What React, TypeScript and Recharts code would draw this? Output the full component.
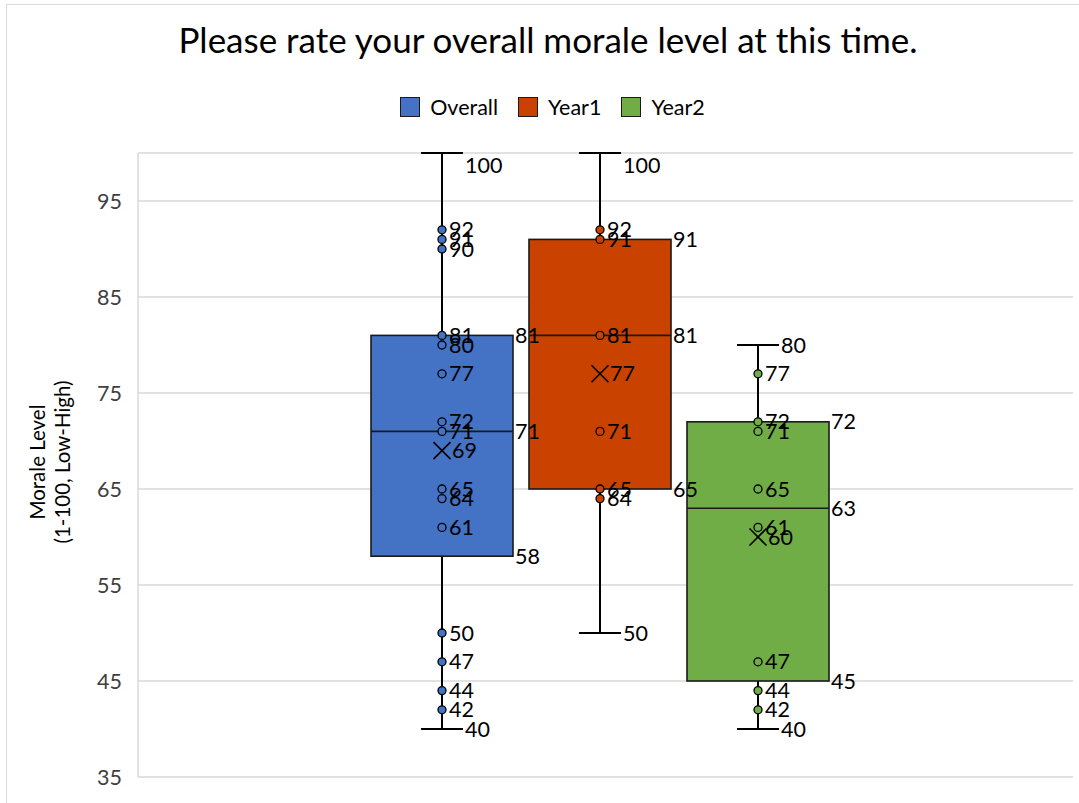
import React from 'react';
import { ComposedChart, Bar, Scatter, XAxis, YAxis, CartesianGrid, LabelList, Cell } from 'recharts';

const FONT = 'Lato, "Open Sans", sans-serif';
const TEXT = '#000000';

const seriesNames = ['Overall', 'Year1', 'Year2'];
const seriesColors = ['#4472C4', '#C94200', '#70AD47'];

// five-number summary + mean for each group
const minValues = [40, 50, 40];
const q1Values = [58, 65, 45];
const medianValues = [71, 81, 63];
const q3Values = [81, 91, 72];
const maxValues = [100, 100, 80];
const meanValues = [69, 77, 60];

// individual responses shown as dots
const overallPoints = [42, 44, 47, 50, 61, 64, 65, 71, 72, 77, 80, 81, 90, 91, 92];
const year1Points = [64, 65, 71, 81, 91, 92];
const year2Points = [42, 44, 47, 61, 65, 71, 72, 77];

const yTicks = [35, 45, 55, 65, 75, 85, 95];
const yDomain = [35, 100];

const boxRows = seriesNames.map((name, i) => ({
  name,
  color: seriesColors[i],
  min: minValues[i],
  q1: q1Values[i],
  median: medianValues[i],
  q3: q3Values[i],
  max: maxValues[i],
  mean: meanValues[i],
}));

const medianRows = boxRows.map(r => ({ name: r.name, value: r.median }));
const meanRows = boxRows.map(r => ({ name: r.name, value: r.mean }));
const pointRows = [overallPoints, year1Points, year2Points].map((pts, i) =>
  pts.map(v => ({ name: seriesNames[i], value: v }))
);

const BOX_WIDTH = 142;
const CAP_WIDTH = 42;
const LABEL_SIZE = 21.5;
const labelStyle = { fill: TEXT, fontSize: LABEL_SIZE, fontFamily: FONT };

const vbOf = (p: any) => (p.viewBox && p.viewBox.width !== undefined ? p.viewBox : p);

// vertical whisker with a cap at each end
const WhiskerShape = (props: any) => {
  const { x, y, width, height } = props;
  const cx = x + width / 2;
  return (
    <g>
      <line x1={cx} x2={cx} y1={y} y2={y + height} stroke="#000" strokeWidth={2} />
      <line x1={x} x2={x + width} y1={y} y2={y} stroke="#000" strokeWidth={2} />
      <line x1={x} x2={x + width} y1={y + height} y2={y + height} stroke="#000" strokeWidth={2} />
    </g>
  );
};

const BoxShape = (props: any) => {
  const { x, y, width, height, fill } = props;
  return <rect x={x} y={y} width={width} height={height} fill={fill} stroke="#1a1a1a" strokeWidth={1.6} />;
};

const MedianShape = (props: any) => {
  const { cx, cy } = props;
  return <line x1={cx - BOX_WIDTH / 2} x2={cx + BOX_WIDTH / 2} y1={cy} y2={cy} stroke="#1a1a1a" strokeWidth={1.6} />;
};

const MeanShape = (props: any) => {
  const { cx, cy } = props;
  const s = 8.5;
  return (
    <g stroke="#000" strokeWidth={1.6}>
      <line x1={cx - s} y1={cy - s} x2={cx + s} y2={cy + s} />
      <line x1={cx - s} y1={cy + s} x2={cx + s} y2={cy - s} />
    </g>
  );
};

const dotShape = (color: string) => (props: any) => (
  <circle cx={props.cx} cy={props.cy} r={4} fill={color} stroke="#000" strokeWidth={1.3} />
);

// label to the right of a rectangle edge (top or bottom)
const edgeLabel = (edge: 'top' | 'bottom') => (props: any) => {
  const { x, y, width, height } = vbOf(props);
  const value = props.value;
  let ty = edge === 'top' ? y : y + height;
  if (edge === 'top' && value >= yDomain[1]) ty += 12;
  return (
    <text x={x + width + 2} y={ty} dy="0.35em" {...labelStyle} textAnchor="start">
      {value}
    </text>
  );
};

// label just right of a dot / marker centre
const pointLabel = (gap: number) => (props: any) => {
  const { x, y, width, height } = vbOf(props);
  const cx = x + width / 2;
  const cy = y + height / 2;
  return (
    <text x={cx + gap} y={cy} dy="0.35em" {...labelStyle} textAnchor="start">
      {props.value}
    </text>
  );
};

const YLabel = () => (
  <g>
    <text x={38} y={462} transform="rotate(-90 38 462)" textAnchor="middle" dy="0.35em" fill={TEXT} fontSize={20.5} fontFamily={FONT}>
      Morale Level
    </text>
    <text x={63} y={462} transform="rotate(-90 63 462)" textAnchor="middle" dy="0.35em" fill={TEXT} fontSize={20.5} fontFamily={FONT}>
      (1-100, Low-High)
    </text>
  </g>
);

const xPadding = { left: 225, right: 236 };

export default function App() {
  return (
    <div style={{ position: 'fixed', left: 0, top: 0, width: 1079, height: 803, overflow: 'hidden', background: '#fff', fontFamily: FONT }}>
      <div style={{ position: 'absolute', left: 6, top: 4, width: 1100, height: 820, border: '1px solid #d9d9d9' }} />
      <div style={{ position: 'absolute', left: 0, top: 18, width: 1096, textAlign: 'center', fontSize: 35, color: TEXT }}>
        Please rate your overall morale level at this time.
      </div>
      <div style={{ position: 'absolute', left: 0, top: 94, width: 1105, display: 'flex', justifyContent: 'center', gap: 20, fontSize: 21.5, color: TEXT }}>
        {seriesNames.map((n, i) => (
          <div key={n} style={{ display: 'flex', alignItems: 'center', gap: 10 }}>
            <span style={{ width: 18, height: 18, background: seriesColors[i], border: '1.5px solid #1a1a1a', display: 'inline-block' }} />
            <span>{n}</span>
          </div>
        ))}
      </div>
      <ComposedChart width={1079} height={803} data={boxRows} margin={{ top: 153, right: 6, bottom: 26, left: 0 }}>
        <CartesianGrid horizontal vertical={false} stroke="#d9d9d9" strokeWidth={1.5} />
        <XAxis xAxisId="whisker" dataKey="name" type="category" hide padding={xPadding} />
        <XAxis xAxisId="box" dataKey="name" type="category" allowDuplicatedCategory={false} hide padding={xPadding} />
        <YAxis
          domain={yDomain}
          ticks={yTicks}
          width={138}
          axisLine={{ stroke: '#d9d9d9', strokeWidth: 1.5 }}
          tickLine={false}
          tickSize={0}
          tickMargin={16}
          tick={{ fill: '#404040', fontSize: LABEL_SIZE, fontFamily: FONT }}
          label={<YLabel />}
        />
        <Bar xAxisId="whisker" dataKey={(r: any) => [r.min, r.max]} barSize={CAP_WIDTH} shape={WhiskerShape} isAnimationActive={false}>
          <LabelList dataKey="max" content={edgeLabel('top')} />
          <LabelList dataKey="min" content={edgeLabel('bottom')} />
        </Bar>
        <Bar xAxisId="box" dataKey={(r: any) => [r.q1, r.q3]} barSize={BOX_WIDTH} shape={BoxShape} isAnimationActive={false}>
          {boxRows.map(r => (
            <Cell key={r.name} fill={r.color} />
          ))}
          <LabelList dataKey="q3" content={edgeLabel('top')} />
          <LabelList dataKey="q1" content={edgeLabel('bottom')} />
        </Bar>
        <Scatter xAxisId="box" data={medianRows} dataKey="value" shape={MedianShape} isAnimationActive={false}>
          <LabelList dataKey="value" content={pointLabel(BOX_WIDTH / 2 + 2)} />
        </Scatter>
        {pointRows.map((rows, i) => (
          <Scatter key={seriesNames[i]} xAxisId="box" data={rows} dataKey="value" shape={dotShape(seriesColors[i])} isAnimationActive={false}>
            <LabelList dataKey="value" content={pointLabel(7)} />
          </Scatter>
        ))}
        <Scatter xAxisId="box" data={meanRows} dataKey="value" shape={MeanShape} isAnimationActive={false}>
          <LabelList dataKey="value" content={pointLabel(10)} />
        </Scatter>
      </ComposedChart>
    </div>
  );
}
